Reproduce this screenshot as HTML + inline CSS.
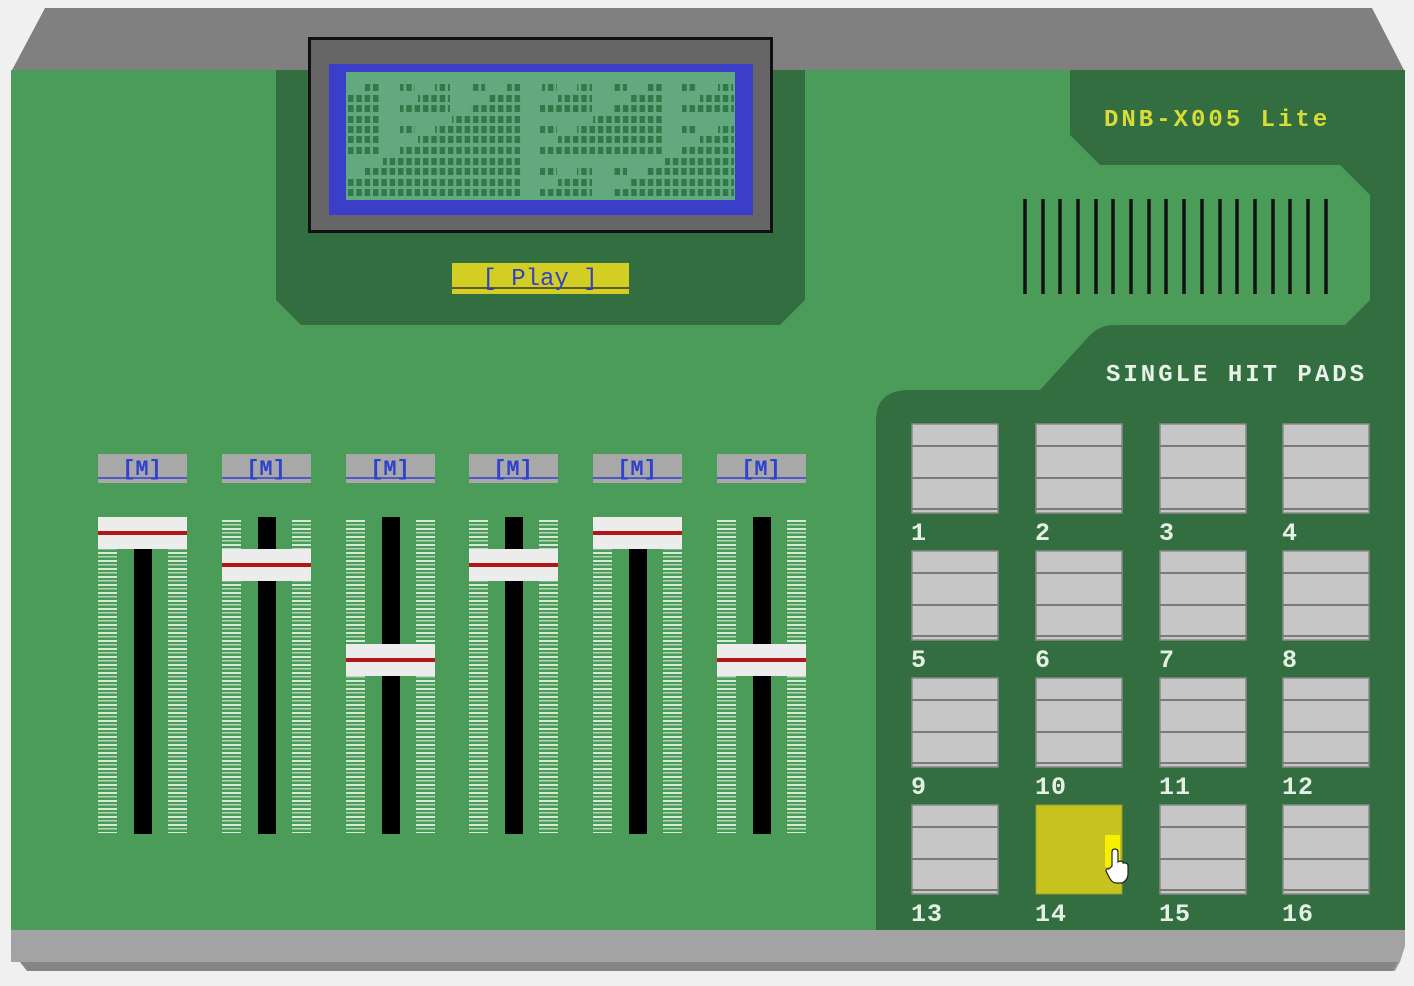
<!DOCTYPE html>
<html><head><meta charset="utf-8"><style>
html,body{margin:0;padding:0;background:#f0f0f0;}
svg{display:block;}
text{font-family:"Liberation Mono",monospace;font-weight:bold;}
</style></head><body>
<svg width="1414" height="986" viewBox="0 0 1414 986" xmlns="http://www.w3.org/2000/svg">
<defs>
<pattern id="tick" x="0" y="520" width="20" height="8" patternUnits="userSpaceOnUse">
<rect x="0" y="0" width="20" height="2" fill="#d6ead8"/>
<rect x="0" y="4" width="20" height="1.5" fill="#b8d8bc"/>
</pattern>
<pattern id="dot" x="347" y="0" width="8.33" height="10.6" patternUnits="userSpaceOnUse">
<rect x="1" y="0" width="5.5" height="20" fill="#2f7a48"/>
</pattern>
</defs>
<!-- top -->
<polygon points="11,72 45,8 1372,8 1405,72" fill="#808080"/>
<!-- body -->
<rect x="11" y="70" width="1394" height="861" fill="#4a9c58"/>
<!-- bottom -->
<polygon points="11,930 1405,930 1405,946 1395,962 11,962" fill="#a3a3a3"/>
<polygon points="11,946 1405,946 1400,962 1395,971 27,971 11,946" fill="#a3a3a3"/>
<polygon points="20,962 1398,962 1393,971 27,971" fill="#858585"/>
<!-- LCD panel -->
<polygon points="276,70 805,70 805,300 780,325 301,325 276,300" fill="#336e40"/>
<rect x="308" y="37" width="465" height="196" fill="#111"/>
<rect x="311" y="40" width="459" height="190" fill="#666"/>
<rect x="329" y="64" width="424" height="151" fill="#3a3ec8"/>
<rect x="346" y="72" width="389" height="128" fill="#63a97f"/>
<g fill="url(#dot)">
<rect x="365" y="84" width="15" height="7"/><rect x="400" y="84" width="15" height="7"/><rect x="435" y="84" width="15" height="7"/><rect x="470" y="84" width="15" height="7"/><rect x="507" y="84" width="15" height="7"/><rect x="542" y="84" width="15" height="7"/><rect x="577" y="84" width="15" height="7"/><rect x="612" y="84" width="15" height="7"/><rect x="647" y="84" width="15" height="7"/><rect x="682" y="84" width="15" height="7"/><rect x="718" y="84" width="15" height="7"/>
<rect x="347" y="95" width="33" height="7"/><rect x="418" y="95" width="32" height="7"/><rect x="488" y="95" width="34" height="7"/><rect x="558" y="95" width="34" height="7"/><rect x="630" y="95" width="32" height="7"/><rect x="700" y="95" width="34" height="7"/>
<rect x="347" y="105" width="33" height="7"/><rect x="400" y="105" width="50" height="7"/><rect x="470" y="105" width="52" height="7"/><rect x="540" y="105" width="52" height="7"/><rect x="612" y="105" width="50" height="7"/><rect x="682" y="105" width="52" height="7"/>
<rect x="347" y="116" width="33" height="7"/><rect x="452" y="116" width="70" height="7"/><rect x="593" y="116" width="69" height="7"/>
<rect x="347" y="126" width="33" height="7"/><rect x="400" y="126" width="15" height="7"/><rect x="435" y="126" width="87" height="7"/><rect x="540" y="126" width="17" height="7"/><rect x="577" y="126" width="85" height="7"/><rect x="682" y="126" width="15" height="7"/><rect x="718" y="126" width="16" height="7"/>
<rect x="347" y="136" width="33" height="7"/><rect x="418" y="136" width="104" height="7"/><rect x="558" y="136" width="104" height="7"/><rect x="700" y="136" width="34" height="7"/>
<rect x="347" y="147" width="33" height="7"/><rect x="400" y="147" width="122" height="7"/><rect x="540" y="147" width="122" height="7"/><rect x="682" y="147" width="52" height="7"/>
<rect x="383" y="158" width="139" height="7"/><rect x="665" y="158" width="69" height="7"/>
<rect x="365" y="168" width="157" height="7"/><rect x="540" y="168" width="17" height="7"/><rect x="577" y="168" width="15" height="7"/><rect x="612" y="168" width="15" height="7"/><rect x="647" y="168" width="87" height="7"/>
<rect x="347" y="179" width="175" height="7"/><rect x="558" y="179" width="34" height="7"/><rect x="630" y="179" width="104" height="7"/>
<rect x="347" y="189" width="175" height="7"/><rect x="540" y="189" width="52" height="7"/><rect x="612" y="189" width="122" height="7"/>
</g>
<!-- Play -->
<rect x="452" y="263" width="177" height="31" fill="#d2cf22"/>
<line x1="452" y1="288" x2="629" y2="288" stroke="#333" stroke-width="1.5"/>
<text x="540" y="285" text-anchor="middle" font-size="24" fill="#3040c8" style="font-family:'Liberation Mono',monospace;font-weight:normal">[ Play ]</text>
<!-- right dark panel -->
<path d="M1070,70 L1405,70 L1405,930 L876,930 L876,420 Q876,390 910,390 L1040,390 L1090,335 Q1100,325 1115,325 L1345,325 L1370,300 L1370,195 L1340,165 L1100,165 L1070,135 Z" fill="#336e40"/>
<text x="1104" y="126" font-size="24" fill="#dada38" letter-spacing="3">DNB-X005 Lite</text>
<text x="1106" y="381" font-size="24" fill="#e8f2e8" letter-spacing="3">SINGLE HIT PADS</text>
<!-- speaker -->
<g stroke="#111" stroke-width="3.5">
<line x1="1025" y1="199" x2="1025" y2="294"/><line x1="1043" y1="199" x2="1043" y2="294"/><line x1="1060" y1="199" x2="1060" y2="294"/><line x1="1078" y1="199" x2="1078" y2="294"/><line x1="1096" y1="199" x2="1096" y2="294"/><line x1="1113" y1="199" x2="1113" y2="294"/><line x1="1131" y1="199" x2="1131" y2="294"/><line x1="1149" y1="199" x2="1149" y2="294"/><line x1="1166" y1="199" x2="1166" y2="294"/><line x1="1184" y1="199" x2="1184" y2="294"/><line x1="1202" y1="199" x2="1202" y2="294"/><line x1="1220" y1="199" x2="1220" y2="294"/><line x1="1237" y1="199" x2="1237" y2="294"/><line x1="1255" y1="199" x2="1255" y2="294"/><line x1="1273" y1="199" x2="1273" y2="294"/><line x1="1290" y1="199" x2="1290" y2="294"/><line x1="1308" y1="199" x2="1308" y2="294"/><line x1="1326" y1="199" x2="1326" y2="294"/>
</g>
<!-- faders -->
<g id="faders">
<!-- ticks -->
<g fill="url(#tick)">
<rect x="98" y="520" width="19" height="313"/><rect x="168" y="520" width="19" height="313"/>
<rect x="222" y="520" width="19" height="313"/><rect x="292" y="520" width="19" height="313"/>
<rect x="346" y="520" width="19" height="313"/><rect x="416" y="520" width="19" height="313"/>
<rect x="469" y="520" width="19" height="313"/><rect x="539" y="520" width="19" height="313"/>
<rect x="593" y="520" width="19" height="313"/><rect x="663" y="520" width="19" height="313"/>
<rect x="717" y="520" width="19" height="313"/><rect x="787" y="520" width="19" height="313"/>
</g>
<g fill="#000">
<rect x="134" y="517" width="18" height="317"/><rect x="258" y="517" width="18" height="317"/><rect x="382" y="517" width="18" height="317"/><rect x="505" y="517" width="18" height="317"/><rect x="629" y="517" width="18" height="317"/><rect x="753" y="517" width="18" height="317"/>
</g>
<g fill="#ececec">
<rect x="98" y="517" width="89" height="32"/><rect x="222" y="549" width="89" height="32"/><rect x="346" y="644" width="89" height="32"/><rect x="469" y="549" width="89" height="32"/><rect x="593" y="517" width="89" height="32"/><rect x="717" y="644" width="89" height="32"/>
</g>
<g fill="#b01818">
<rect x="98" y="531" width="89" height="4"/><rect x="222" y="563" width="89" height="4"/><rect x="346" y="658" width="89" height="4"/><rect x="469" y="563" width="89" height="4"/><rect x="593" y="531" width="89" height="4"/><rect x="717" y="658" width="89" height="4"/>
</g>
<!-- M buttons -->
<g fill="#a8a8a8">
<rect x="98" y="454" width="89" height="29"/><rect x="222" y="454" width="89" height="29"/><rect x="346" y="454" width="89" height="29"/><rect x="469" y="454" width="89" height="29"/><rect x="593" y="454" width="89" height="29"/><rect x="717" y="454" width="89" height="29"/>
</g>
<g stroke="#3040d0" stroke-width="1.5">
<line x1="98" y1="478" x2="187" y2="478"/><line x1="222" y1="478" x2="311" y2="478"/><line x1="346" y1="478" x2="435" y2="478"/><line x1="469" y1="478" x2="558" y2="478"/><line x1="593" y1="478" x2="682" y2="478"/><line x1="717" y1="478" x2="806" y2="478"/>
</g>
<g font-size="22" fill="#3040d0" text-anchor="middle" style="font-weight:normal">
<text x="142" y="475">[M]</text><text x="266" y="475">[M]</text><text x="390" y="475">[M]</text><text x="513" y="475">[M]</text><text x="637" y="475">[M]</text><text x="761" y="475">[M]</text>
</g>
</g>
<!-- pads -->
<g fill="#c6c6c6" stroke="#8a8a8a" stroke-width="1.5">
<rect x="912" y="424" width="86" height="89"/><rect x="1036" y="424" width="86" height="89"/><rect x="1160" y="424" width="86" height="89"/><rect x="1283" y="424" width="86" height="89"/>
<rect x="912" y="551" width="86" height="89"/><rect x="1036" y="551" width="86" height="89"/><rect x="1160" y="551" width="86" height="89"/><rect x="1283" y="551" width="86" height="89"/>
<rect x="912" y="678" width="86" height="89"/><rect x="1036" y="678" width="86" height="89"/><rect x="1160" y="678" width="86" height="89"/><rect x="1283" y="678" width="86" height="89"/>
<rect x="912" y="805" width="86" height="89"/><rect x="1160" y="805" width="86" height="89"/><rect x="1283" y="805" width="86" height="89"/>
</g>
<g stroke="#7a7a7a" stroke-width="2">
<path d="M912,446h86M912,478h86M912,509h86 M1036,446h86M1036,478h86M1036,509h86 M1160,446h86M1160,478h86M1160,509h86 M1283,446h86M1283,478h86M1283,509h86"/>
<path d="M912,573h86M912,605h86M912,636h86 M1036,573h86M1036,605h86M1036,636h86 M1160,573h86M1160,605h86M1160,636h86 M1283,573h86M1283,605h86M1283,636h86"/>
<path d="M912,700h86M912,732h86M912,763h86 M1036,700h86M1036,732h86M1036,763h86 M1160,700h86M1160,732h86M1160,763h86 M1283,700h86M1283,732h86M1283,763h86"/>
<path d="M912,827h86M912,859h86M912,890h86 M1160,827h86M1160,859h86M1160,890h86 M1283,827h86M1283,859h86M1283,890h86"/>
</g>
<rect x="1036" y="805" width="86" height="89" fill="#c6c21e" stroke="#9a9a30" stroke-width="1"/>
<rect x="1105" y="835" width="15" height="32" fill="#f6f000"/>
<path d="M1112,866 v-14 q0,-3 3,-3 q3,0 3,3 v10 l2,-1 q3,0 3,2 l2,0 q3,0 3,3 v8 q0,6 -6,9 h-6 q-4,0 -7,-6 l-3,-6 q0,-3 3,-2 z" fill="#fff" stroke="#222" stroke-width="1.2"/>
<g font-size="25" fill="#e4f0e4" letter-spacing="1">
<text x="911" y="540">1</text><text x="1035" y="540">2</text><text x="1159" y="540">3</text><text x="1282" y="540">4</text>
<text x="911" y="667">5</text><text x="1035" y="667">6</text><text x="1159" y="667">7</text><text x="1282" y="667">8</text>
<text x="911" y="794">9</text><text x="1035" y="794">10</text><text x="1159" y="794">11</text><text x="1282" y="794">12</text>
<text x="911" y="921">13</text><text x="1035" y="921">14</text><text x="1159" y="921">15</text><text x="1282" y="921">16</text>
</g>
</svg>
</body></html>
